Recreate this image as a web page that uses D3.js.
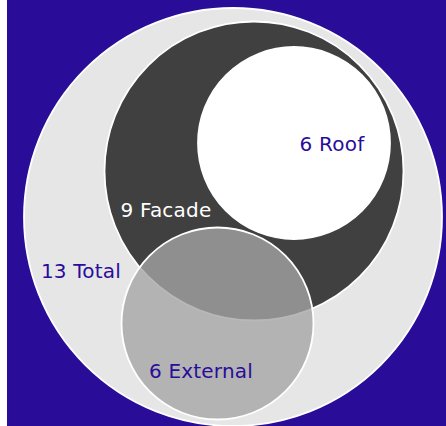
<!DOCTYPE html>
<html>
<head>
<meta charset="utf-8">
<script src="https://cdn.jsdelivr.net/npm/d3@7"></script>
<style>
  html, body { margin: 0; padding: 0; background: #ffffff; }
  svg { display: block; }
</style>
</head>
<body>
<svg id="chart" width="446" height="426"></svg>
<script>
// Set names and their counts
const setNames = ["Total", "Facade", "Roof", "External"];
const setCounts = [13, 9, 6, 6];

// Layout of each set's circle centre (pixels) and drawing styles
const centres = [
  [233, 217],
  [254, 171],
  [294, 143],
  [217.5, 323.5]
];
const fills = ["#e6e6e6", "#404040", "#ffffff", "rgba(165,165,165,0.79)"];
const labelColors = ["#2a0c9a", "#ffffff", "#2a0c9a", "#2a0c9a"];
const labelPos = [
  [81, 277.5],
  [166, 216.5],
  [332, 150.5],
  [201, 377.5]
];

const W = 446, H = 426;
const svg = d3.select("#chart");

// Radius scale from set count
const rScale = d3.scaleLinear().domain([6, 9, 13]).range([96, 149.5, 209]);

svg.append("rect")
  .attr("x", 7).attr("y", 0)
  .attr("width", W - 7).attr("height", H)
  .attr("fill", "#290d99");

const sets = setNames.map((name, i) => ({
  name, count: setCounts[i], cx: centres[i][0], cy: centres[i][1],
  fill: fills[i], color: labelColors[i], lx: labelPos[i][0], ly: labelPos[i][1]
}));

svg.selectAll("circle.set")
  .data(sets)
  .join("circle")
  .attr("class", "set")
  .attr("cx", d => d.cx)
  .attr("cy", d => d.cy)
  .attr("r", d => rScale(d.count))
  .attr("fill", d => d.fill)
  .attr("stroke", "#ffffff")
  .attr("stroke-width", 1.8);

svg.selectAll("text.label")
  .data(sets)
  .join("text")
  .attr("class", "label")
  .attr("x", d => d.lx)
  .attr("y", d => d.ly)
  .attr("text-anchor", "middle")
  .attr("fill", d => d.color)
  .style("font-family", "'DejaVu Sans', sans-serif")
  .style("font-size", "20px")
  .style("letter-spacing", "0.2px")
  .text(d => `${d.count} ${d.name}`);
</script>
</body>
</html>
